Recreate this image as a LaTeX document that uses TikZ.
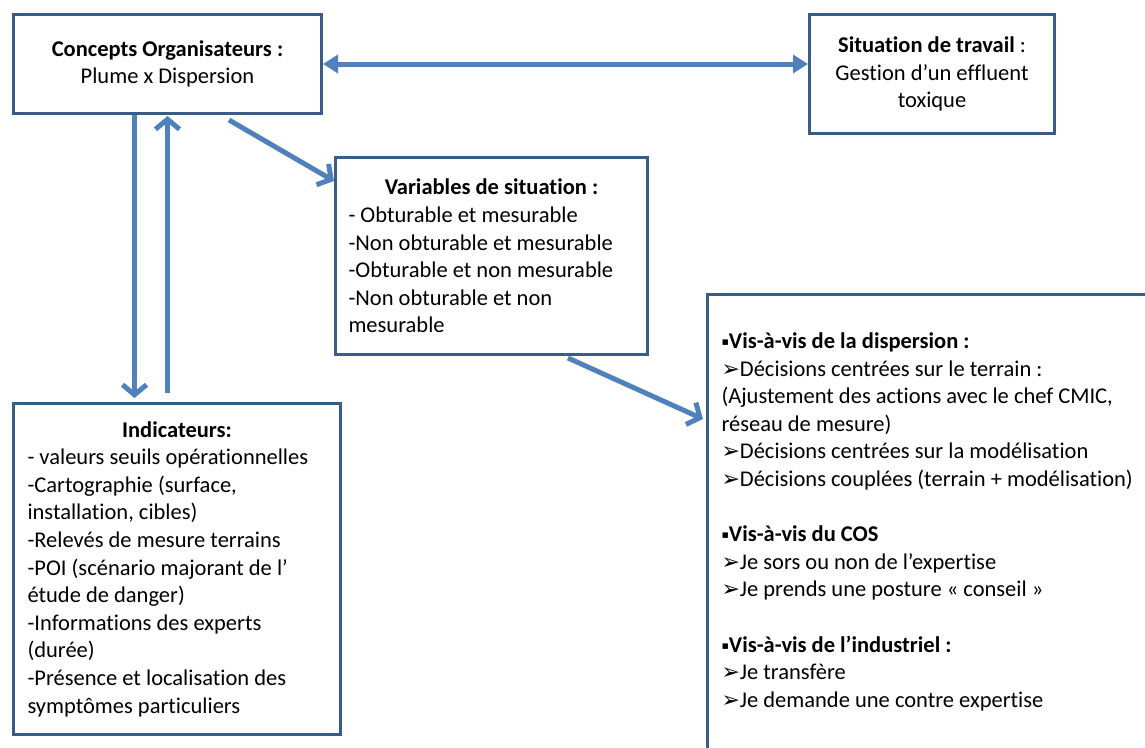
\documentclass[tikz,border=0pt]{standalone}
\usepackage{fontspec}
\setmainfont{Carlito}[Ligatures=NoCommon, RawFeature={-liga}]
\newfontfamily\symfont{DejaVu Sans}
\usepackage{xcolor}
\usetikzlibrary{arrows.meta}
\definecolor{boxblue}{HTML}{385D8A}
\definecolor{arrowblue}{HTML}{4F81BD}
\newcommand{\sqbul}{\raisebox{3pt}{\symfont\fontsize{11}{11}\selectfont ▪}}
\newcommand{\arbul}{{\symfont\fontsize{22}{22}\selectfont ➢}}
\tikzstyle{box} = [rectangle, 
draw=boxblue, 
line width=3pt, 
fill=white, 
inner sep=0pt, 
font=\fontsize{22.5}{27.6}\selectfont]
\tikzstyle{arrow} = [draw=arrowblue, line width=5pt, -{Straight Barb[length=10pt,width=24pt]}]
\tikzstyle{dblarrow} = [draw=arrowblue, line width=5pt, {Triangle[length=15pt,width=18pt]}-{Triangle[length=15pt,width=18pt]}]

\begin{document}
\begin{tikzpicture}[x=1pt, y=-1pt]
\useasboundingbox (0,0) rectangle (1145,747);
\clip (0,0) rectangle (1145,747);

% Nodes
\node (concepts) [box, minimum width=308pt, minimum height=99pt, align=center, anchor=north west] at (12,13) {\textbf{Concepts Organisateurs :}\\Plume x Dispersion};
\node (situation) [box, minimum width=245pt, minimum height=119pt, align=center, anchor=north west] at (808,13) {\textbf{Situation de travail} :\\Gestion d’un ef\kern0ptf\kern0ptluent\\toxique};
\node (variables) [box, minimum width=312pt, minimum height=197pt, text width=286pt, align=flush left, anchor=north west] at (334,156) {\makebox[286pt]{\textbf{Variables de situation :}}\\- Obturable et mesurable\\-Non obturable et mesurable\\-Obturable et non mesurable\\-Non obturable et non\\mesurable};
\node (indicateurs) [box, minimum width=327pt, minimum height=331pt, text width=299pt, align=flush left, anchor=north west] at (12,402) {\makebox[299pt]{\textbf{Indicateurs:}}\\- valeurs seuils opérationnelles\\-Cartographie (surface,\\installation, cibles)\\-Relevés de mesure terrains\\-POI (scénario majorant de l’\\étude de danger)\\-Informations des experts\\(durée)\\-Présence et localisation des\\symptômes particuliers};
\node (decisions) [box, inner xsep=14pt, inner ysep=7pt, anchor=north west] at (706,293) {\parbox[t][470pt][t]{450pt}{\raggedright\strut\\
\sqbul\textbf{Vis-à-vis de la dispersion :}\\
\arbul Décisions centrées sur le terrain :\\
(Ajustement des actions avec le chef CMIC,\\
réseau de mesure)\\
\arbul Décisions centrées sur la modélisation\\
\arbul Décisions couplées (terrain + modélisation)\\
\strut\\
\sqbul\textbf{Vis-à-vis du COS}\\
\arbul Je sors ou non de l’expertise\\
\arbul Je prends une posture « conseil »\\
\strut\\
\sqbul\textbf{Vis-à-vis de l’industriel :}\\
\arbul Je transfère\\
\arbul Je demande une contre expertise}};

% Arrows
\draw [dblarrow] (concepts.east) -- (concepts.east -| situation.west);
\draw [arrow] ([xshift=-33pt]concepts.south) -- ([xshift=-42.5pt,yshift=4pt]indicateurs.north);
\draw [arrow] ([xshift=-9.5pt,yshift=9pt]indicateurs.north) -- ([yshift=-1pt]concepts.south);
\draw [arrow] ([xshift=217pt,yshift=-5pt]concepts.south west) -- ([yshift=-25pt]variables.north west);
\draw [arrow] ([xshift=234pt,yshift=-2pt]variables.south west) -- ([xshift=-3pt,yshift=-126pt]decisions.north west);

\end{tikzpicture}
\end{document}
